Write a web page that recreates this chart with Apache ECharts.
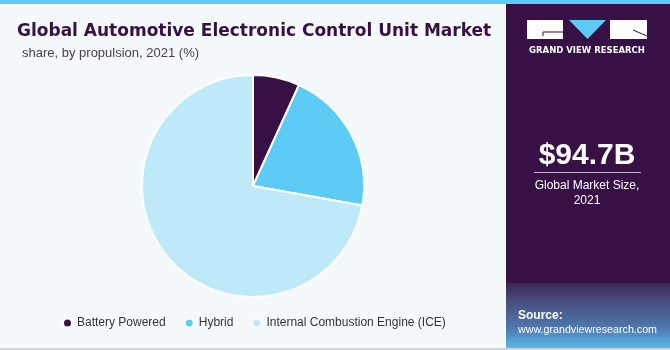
<!DOCTYPE html>
<html>
<head>
<meta charset="utf-8">
<script src="https://cdn.jsdelivr.net/npm/echarts@6/dist/echarts.min.js"></script>
<style>
html,body{margin:0;padding:0;background:#f5f9fc;}
#chart{width:670px;height:350px;}
</style>
</head>
<body>
<div id="chart"></div>
<script>
var categories = ["Battery Powered", "Hybrid", "Internal Combustion Engine (ICE)"];
var shares = [6.8, 21.0, 72.2];
var colors = ["#371146", "#5ccbf6", "#bee9f9"];

var chart = echarts.init(document.getElementById('chart'), null, {renderer: 'canvas'});
var data = categories.map(function (c, i) {
  return {name: c, value: shares[i], itemStyle: {color: colors[i]}};
});

var option = {
  backgroundColor: '#f5f9fc',
  animation: false,
  title: [
    {text: 'Global Automotive Electronic Control Unit Market', left: 12, top: 18,
     textStyle: {fontFamily: 'DejaVu Sans', fontWeight: 'bold', fontSize: 17, color: '#371146'}},
    {text: 'share, by propulsion, 2021 (%)', left: 17, top: 42,
     textStyle: {fontFamily: 'Liberation Sans', fontWeight: 'normal', fontSize: 13, color: '#444444'}}
  ],
  legend: {
    top: 317, left: 62, padding: 0,
    icon: 'circle', itemWidth: 9, itemHeight: 9, itemGap: 18,
    textStyle: {fontFamily: 'Liberation Sans', fontSize: 12, color: '#333333'},
    data: categories
  },
  series: [{
    type: 'pie',
    center: [253, 186],
    radius: [0, 111],
    startAngle: 90,
    clockwise: true,
    label: {show: false},
    labelLine: {show: false},
    itemStyle: {borderColor: '#ffffff', borderWidth: 2},
    emphasis: {disabled: true},
    data: data
  }],
  graphic: [
    {type: 'rect', shape: {x: 0, y: 0, width: 670, height: 4}, style: {fill: '#5ccbf6'}},
    {type: 'rect', shape: {x: 0, y: 348, width: 670, height: 2}, style: {fill: '#cfd3d6'}},
    {type: 'rect', shape: {x: 506, y: 4, width: 164, height: 344}, style: {fill: '#371146'}},
    {type: 'rect', shape: {x: 506, y: 283, width: 164, height: 65},
     style: {fill: new echarts.graphic.LinearGradient(0, 0, 0, 1, [
       {offset: 0, color: '#3d2659'}, {offset: 0.3, color: '#4a4f80'}, {offset: 0.7, color: '#4d7ab0'}, {offset: 1, color: '#5ab8e8'}])}},
    // logo
    {type: 'rect', shape: {x: 527, y: 20, width: 36, height: 19}, style: {fill: '#ffffff'}},
    {type: 'polyline', shape: {points: [[543, 36], [543, 32], [563, 32]]}, style: {stroke: '#371146', lineWidth: 1, fill: null}},
    {type: 'polygon', shape: {points: [[569, 20], [606, 20], [587.5, 39]]}, style: {fill: '#5ccbf6'}},
    {type: 'rect', shape: {x: 610, y: 20, width: 37, height: 19}, style: {fill: '#ffffff'}},
    {type: 'polyline', shape: {points: [[633, 30], [647, 36]]}, style: {stroke: '#371146', lineWidth: 1, fill: null}},
    {type: 'text', x: 587, y: 51, style: {text: 'GRAND VIEW RESEARCH', fill: '#ffffff', font: 'bold 8.5px "DejaVu Sans"', align: 'center', verticalAlign: 'middle'}},
    {type: 'text', x: 587, y: 156, style: {text: '$94.7B', fill: '#ffffff', font: 'bold 30px "Liberation Sans"', align: 'center', verticalAlign: 'middle'}},
    {type: 'rect', shape: {x: 534, y: 172, width: 107, height: 1}, style: {fill: '#bfb3c8'}},
    {type: 'text', x: 587, y: 186, style: {text: 'Global Market Size,', fill: '#ffffff', font: '12px "Liberation Sans"', align: 'center', verticalAlign: 'middle'}},
    {type: 'text', x: 587, y: 201, style: {text: '2021', fill: '#ffffff', font: '12px "Liberation Sans"', align: 'center', verticalAlign: 'middle'}},
    {type: 'text', x: 518, y: 316, style: {text: 'Source:', fill: '#ffffff', font: 'bold 12px "Liberation Sans"', align: 'left', verticalAlign: 'middle'}},
    {type: 'text', x: 518, y: 330, style: {text: 'www.grandviewresearch.com', fill: '#ffffff', font: '10.7px "Liberation Sans"', align: 'left', verticalAlign: 'middle'}}
  ]
};
chart.setOption(option);
</script>
</body>
</html>
